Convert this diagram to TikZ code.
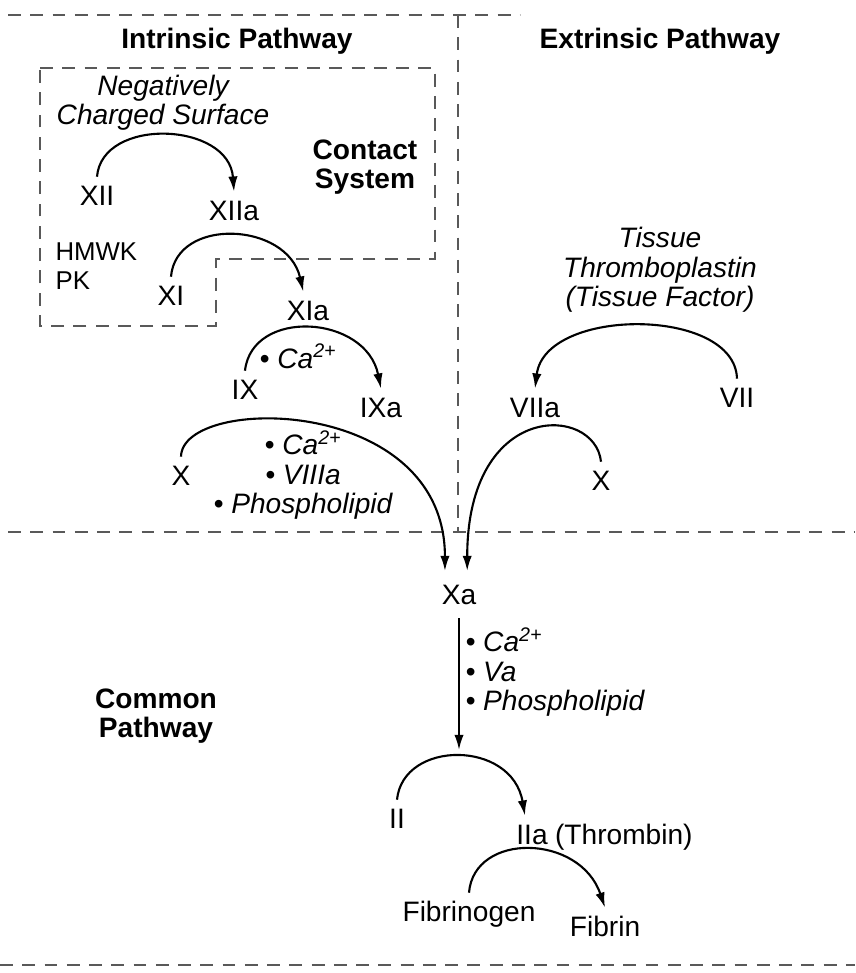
\documentclass[tikz,border=0pt]{standalone}
\usepackage{fontspec}
\setmainfont{Liberation Sans}
\usetikzlibrary{arrows.meta,positioning}
\begin{document}
\begin{tikzpicture}%
[x=0.03cm,y=0.03cm,%
lbl/.style={font=\fontsize{24}{25}\selectfont, text height=17pt, text depth=5pt, inner xsep=2pt, inner ysep=7pt},%
txt/.style={font=\fontsize{22}{25}\selectfont, align=left, inner sep=2pt},%
note/.style={font=\fontsize{24}{25}\selectfont\itshape, align=center, inner sep=2pt},%
head/.style={font=\fontsize{24}{25}\selectfont\bfseries, align=center, inner sep=2pt},%
arc/.style={line width=1.8pt, -{Latex[length=13pt,width=8pt]}},%
sep/.style={black!65, line width=1.6pt, dash pattern=on 11pt off 8pt}]
\useasboundingbox (0,0) rectangle (855,-973);
\draw[sep] (8,-15) -- (520,-15);
\draw[sep] (458,-15) -- (458,-532);
\draw[sep] (8,-532) -- (855,-532);
\draw[sep] (0,-965) -- (855,-965);
\draw[sep] (40,-68) -- (435,-68) -- (435,-259) -- (216,-259) -- (216,-326) -- (40,-326) -- cycle;
\node[head] (intr) at (237,-41) {Intrinsic Pathway};
\node[head] (extr) at (660,-41) {Extrinsic Pathway};
\node[note] (neg) at (163,-103) {Negatively\\Charged Surface};
\node[head] (cont) at (365,-167) {Contact\\System};
\node[lbl] (XII) at (97,-198) {XII};
\node[lbl] (XIIa) at (234,-213) {XIIa};
\node[txt, anchor=west] (hk) at (53,-266) {HMWK\\PK};
\node[lbl] (XI) at (171,-298) {XI};
\node[lbl] (XIa) at (308,-313) {XIa};
\node[note] (ca1) at (298,-356) {• Ca\textsuperscript{2+}};
\node[lbl] (IX) at (245,-392) {IX};
\node[lbl] (IXa) at (381,-410) {IXa};
\node[lbl] (X1) at (181,-478) {X};
\node[note] (cof1) at (303,-475) {• Ca\textsuperscript{2+}\\• VIIIa\\• Phospholipid};
\node[note] (tf) at (660,-270) {Tissue\\Thromboplastin\\(Tissue Factor)};
\node[lbl] (VII) at (737,-400) {VII};
\node[lbl] (VIIa) at (535,-410) {VIIa};
\node[lbl] (X2) at (601,-483) {X};
\node[lbl] (Xa) at (459,-597) {Xa};
\node[note, align=left, anchor=west] (cof2) at (463,-672) {• Ca\textsuperscript{2+}\\• Va\\• Phospholipid};
\node[head] (comm) at (156,-716) {Common\\Pathway};
\node[lbl] (II) at (397,-821) {II};
\node[lbl] (IIa) at (532,-837) {IIa};
\node[lbl, right=2pt of IIa] (thr) {(Thrombin)};
\node[lbl] (fgn) at (469,-914) {Fibrinogen};
\node[lbl] (fbn) at (605,-929) {Fibrin};
\coordinate (act) at (459,-750);
\draw[arc] (XII.north) .. controls +(5,60) and +(-5,70) .. (XIIa.north);
\draw[arc] (XI.north) .. controls +(5,60) and +(-16,70) .. ([xshift=-4pt]XIa.north);
\draw[arc] (IX.north) .. controls +(7,63) and +(-15,74) .. (IXa.north);
\draw[arc, shorten >=4pt] (X1.north) .. controls +(1,62) and +(0,181) .. ([xshift=-12pt]Xa.north);
\draw[arc] (VII.north) .. controls +(-2,72) and +(10,82) .. (VIIa.north);
\draw[arc, shorten >=4pt] (X2.north) .. controls +(-6,57) and +(0,176) .. ([xshift=7pt]Xa.north);
\draw[arc] (Xa.south) -- (act);
\draw[arc] (II.north) .. controls +(6,60) and +(-13,76) .. ([xshift=-6pt]IIa.north);
\draw[arc] (fgn.north) .. controls +(5,61) and +(-25,74) .. (fbn.north);
\end{tikzpicture}
\end{document}
